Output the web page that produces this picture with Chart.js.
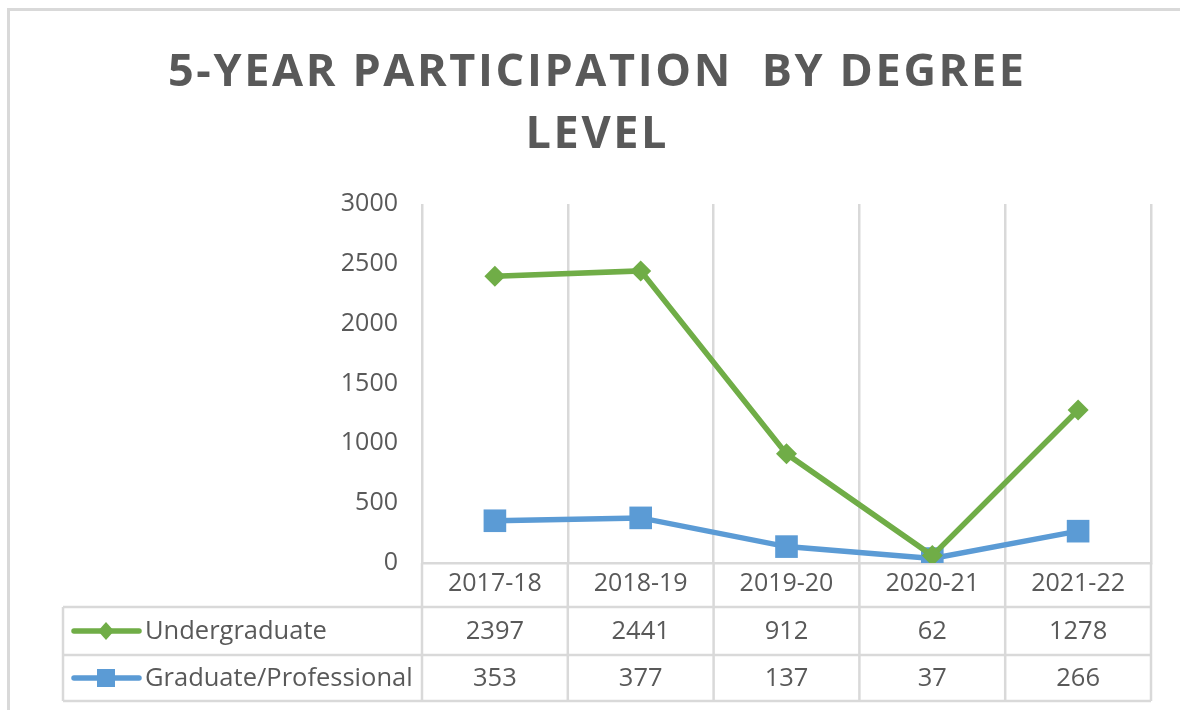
<!DOCTYPE html>
<html>
<head>
<meta charset="utf-8">
<script src="https://cdn.jsdelivr.net/npm/chart.js@4.4.1/dist/chart.umd.min.js"></script>
<style>
html,body{margin:0;padding:0;background:#fff;}
#wrap{width:1180px;height:710px;position:relative;}
canvas{display:block;}
</style>
</head>
<body>
<div id="wrap"><canvas id="c" width="1180" height="710"></canvas></div>
<script>
// ---- data ----
const categories = ['2017-18', '2018-19', '2019-20', '2020-21', '2021-22'];
const undergraduate = [2397, 2441, 912, 62, 1278];
const graduate = [353, 377, 137, 37, 266];
const seriesNames = ['Undergraduate', 'Graduate/Professional'];
const yTicks = [0, 500, 1000, 1500, 2000, 2500, 3000];
const titleLines = ['5-YEAR PARTICIPATION  BY DEGREE', 'LEVEL'];

// ---- style ----
const GRID = '#d9d9d9';
const TXT = '#595959';
const GREEN = '#70AD47';
const BLUE = '#5B9BD5';
const FONT = '"Open Sans", sans-serif';

const extras = {
  id: 'extras',
  beforeDraw(chart) {
    const ctx = chart.ctx;
    ctx.save();
    ctx.fillStyle = '#fff';
    ctx.fillRect(0, 0, chart.width, chart.height);
    ctx.strokeStyle = GRID;
    ctx.lineWidth = 3;
    ctx.beginPath();
    ctx.moveTo(8.5, chart.height);
    ctx.lineTo(8.5, 9.5);
    ctx.lineTo(chart.width, 9.5);
    ctx.stroke();
    ctx.restore();
  },
  afterDraw(chart) {
    const ctx = chart.ctx;
    const area = chart.chartArea;
    const xs = chart.scales.x;
    // ---- title ----
    ctx.save();
    ctx.fillStyle = TXT;
    ctx.font = 'bold 45px ' + FONT;
    ctx.textBaseline = 'alphabetic';
    ctx.textAlign = 'left';
    ctx.letterSpacing = '0px';
    const w0 = ctx.measureText(titleLines[0]).width;
    const n0 = titleLines[0].length;
    const spacing = Math.max(0, (856 - w0) / (n0 - 1));
    const cx = 596;
    const baselines = [86, 148];
    titleLines.forEach((line, i) => {
      ctx.letterSpacing = '0px';
      const w = ctx.measureText(line).width + spacing * (line.length - 1);
      ctx.letterSpacing = spacing + 'px';
      ctx.fillText(line, cx - w / 2, baselines[i]);
    });
    ctx.restore();

    // ---- data table ----
    const half = (xs.getPixelForValue(1) - xs.getPixelForValue(0)) / 2;
    const bounds = [];
    for (let i = 0; i <= categories.length; i++) {
      bounds.push(xs.getPixelForValue(i) - half);
    }
    const top = area.bottom;
    const r1 = top + 44, r2 = top + 92, r3 = top + 138;
    const legLeft = 63;
    ctx.save();
    ctx.strokeStyle = GRID;
    ctx.lineWidth = 2.5;
    ctx.beginPath();
    bounds.forEach(b => { ctx.moveTo(b, top); ctx.lineTo(b, r3); });
    ctx.moveTo(legLeft, r1); ctx.lineTo(legLeft, r3);
    [r1, r2, r3].forEach(y => { ctx.moveTo(legLeft, y); ctx.lineTo(bounds[bounds.length - 1], y); });
    ctx.stroke();

    const rows = [
      { name: seriesNames[0], data: undergraduate, color: GREEN, marker: 'diamond', y: (r1 + r2) / 2 },
      { name: seriesNames[1], data: graduate, color: BLUE, marker: 'square', y: (r2 + r3) / 2 }
    ];
    ctx.font = '25.5px ' + FONT;
    ctx.fillStyle = TXT;
    ctx.textBaseline = 'middle';
    rows.forEach(r => {
      // legend key
      ctx.strokeStyle = r.color;
      ctx.lineWidth = 5.5;
      ctx.lineCap = 'round';
      ctx.beginPath();
      ctx.moveTo(74, r.y); ctx.lineTo(139, r.y);
      ctx.stroke();
      ctx.fillStyle = r.color;
      ctx.beginPath();
      if (r.marker === 'diamond') {
        ctx.moveTo(106, r.y - 9); ctx.lineTo(114, r.y); ctx.lineTo(106, r.y + 9); ctx.lineTo(98, r.y);
        ctx.closePath();
      } else {
        ctx.rect(97, r.y - 9, 18, 18);
      }
      ctx.fill();
      ctx.fillStyle = TXT;
      ctx.textAlign = 'left';
      ctx.fillText(r.name, 145, r.y + 1);
      ctx.textAlign = 'center';
      r.data.forEach((v, i) => {
        ctx.fillText(String(v), xs.getPixelForValue(i), r.y + 1);
      });
    });
    ctx.restore();
  }
};

function build() {
  new Chart(document.getElementById('c'), {
    type: 'line',
    data: {
      labels: categories,
      datasets: [
        {
          label: seriesNames[0],
          data: undergraduate,
          borderColor: GREEN,
          backgroundColor: GREEN,
          borderWidth: 5.5,
          pointStyle: 'rectRot',
          pointRadius: 10.5,
          pointHoverRadius: 10.5,
          pointBorderWidth: 0,
          tension: 0
        },
        {
          label: seriesNames[1],
          data: graduate,
          borderColor: BLUE,
          backgroundColor: BLUE,
          borderWidth: 5.5,
          pointStyle: 'rect',
          pointRadius: 16,
          pointHoverRadius: 16,
          pointBorderWidth: 0,
          tension: 0
        }
      ]
    },
    options: {
      responsive: false,
      animation: false,
      devicePixelRatio: 1,
      layout: { padding: { left: 322, right: 29, top: 204, bottom: 103 } },
      plugins: {
        legend: { display: false },
        title: { display: false },
        tooltip: { enabled: false }
      },
      scales: {
        x: {
          type: 'category',
          offset: true,
          grid: { offset: true, color: GRID, lineWidth: 2.5, drawTicks: false },
          border: { display: true, color: GRID, width: 2.5 },
          ticks: { color: TXT, font: { family: FONT, size: 25 }, padding: 6, maxRotation: 0 },
          afterFit(s) { s.height = 44; }
        },
        y: {
          min: 0,
          max: 3000,
          afterBuildTicks(s) { s.ticks = yTicks.map(v => ({ value: v })); },
          grid: { display: false, drawTicks: false },
          border: { display: false },
          ticks: {
            color: TXT,
            font: { family: FONT, size: 25 },
            padding: 24,
            callback: (v) => String(v)
          },
          afterFit(s) { s.width = 100; }
        }
      }
    },
    plugins: [extras]
  });
}
if (document.fonts && document.fonts.load) {
  Promise.all([
    document.fonts.load('25px "Open Sans"'),
    document.fonts.load('bold 45px "Open Sans"')
  ]).then(build, build);
} else { build(); }
</script>
</body>
</html>
